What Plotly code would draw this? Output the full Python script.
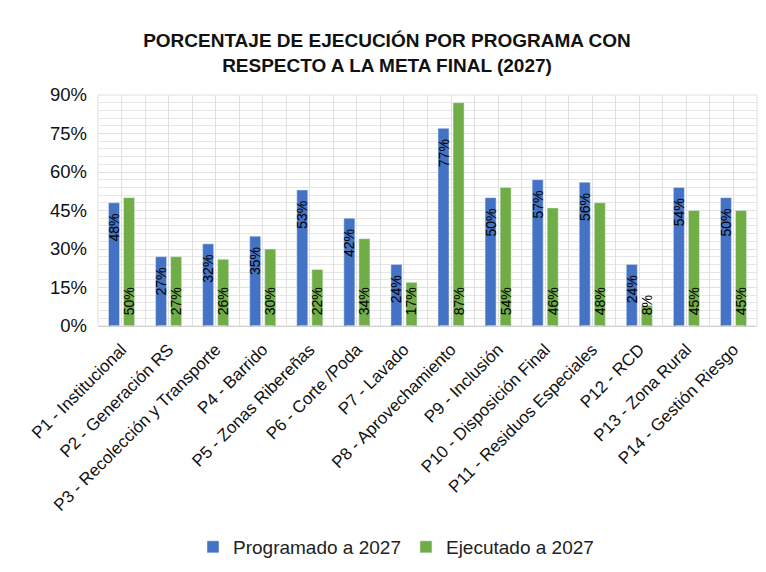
import plotly.graph_objects as go

categorias = ["P1 - Institucional", "P2 - Generación RS", "P3 - Recolección y Transporte",
              "P4 - Barrido", "P5 - Zonas Ribereñas", "P6 - Corte /Poda", "P7 - Lavado",
              "P8 - Aprovechamiento", "P9 - Inclusión", "P10 - Disposición Final",
              "P11 - Residuos Especiales", "P12 - RCD", "P13 - Zona Rural", "P14 - Gestión Riesgo"]
programado = [0.48, 0.27, 0.32, 0.35, 0.53, 0.42, 0.24, 0.77, 0.50, 0.57, 0.56, 0.24, 0.54, 0.50]
ejecutado = [0.50, 0.27, 0.26, 0.30, 0.22, 0.34, 0.17, 0.87, 0.54, 0.46, 0.48, 0.08, 0.45, 0.45]
series = ["Programado a 2027", "Ejecutado a 2027"]
y_ticks = [0, 0.15, 0.30, 0.45, 0.60, 0.75, 0.90]

FONT = "Liberation Sans, Arial, sans-serif"
BLUE = "#4472C4"
GREEN = "#70AD47"
GRID = "#E0E0E0"
NB = "\u00a0"

# page has an 8px body margin; figure sized to fit in 766x572 window
W, H = 758, 564

fig = go.Figure()
fig.add_trace(go.Bar(
    x=categorias, y=programado, name=series[0], marker_color=BLUE,
    texttemplate="%{y:.0%}" + NB * 2, textposition="inside", insidetextanchor="end",
    textangle=-90, constraintext="none", cliponaxis=False,
    textfont=dict(family=FONT, size=14, color="black"),
))
fig.add_trace(go.Bar(
    x=categorias, y=ejecutado, name=series[1], marker_color=GREEN,
    texttemplate=NB * 2 + "%{y:.0%}", textposition="inside", insidetextanchor="start",
    textangle=-90, constraintext="none", cliponaxis=False,
    textfont=dict(family=FONT, size=14, color="black"),
))
# invisible trace on overlay axis to draw center gridlines
fig.add_trace(go.Bar(x=categorias, y=[0] * len(categorias), xaxis="x2", showlegend=False,
                     hoverinfo="skip", marker_color="rgba(0,0,0,0)"))

fig.update_layout(
    width=W, height=H,
    margin=dict(l=90, r=9, t=87, b=246, autoexpand=False),
    paper_bgcolor="white", plot_bgcolor="white",
    font=dict(family=FONT, color="#222222"),
    title=dict(text="<b>PORCENTAJE DE EJECUCIÓN POR PROGRAMA CON<br>RESPECTO A LA META FINAL (2027)</b>",
               x=0.5, xanchor="center", y=1 - 39 / H, yanchor="middle", yref="container",
               font=dict(size=19, family=FONT, color="#111111")),
    barmode="group", bargap=0.36, bargroupgap=0.27,
    legend=dict(orientation="h", x=388 / W, xanchor="center", xref="container",
                y=1 - 539 / H, yanchor="middle", yref="container",
                font=dict(size=19, family=FONT, color="#222222"),
                traceorder="normal", itemwidth=30),
    xaxis=dict(type="category", tickson="boundaries", showgrid=True, gridcolor=GRID,
               tickangle=-45, tickfont=dict(size=17, family=FONT, color="#111111"),
               showline=True, linecolor="#D0D0D0", ticks="", automargin=False,
               ticklabelstandoff=6),
    xaxis2=dict(type="category", overlaying="x", showgrid=True, gridcolor=GRID,
                showticklabels=False, ticks="", matches="x", layer="below traces",
                automargin=False),
    yaxis=dict(range=[y_ticks[0], y_ticks[-1]], tickmode="linear", tick0=y_ticks[0],
               dtick=y_ticks[1] - y_ticks[0], tickformat=".0%", showgrid=True,
               gridcolor=GRID, tickfont=dict(size=18.5, family=FONT, color="#111111"),
               minor=dict(tickmode="linear", tick0=0, dtick=0.03, showgrid=True,
                          gridcolor="#E6E6E6", gridwidth=1),
               zeroline=False, showline=False, ticks="", ticklabelstandoff=10,
               automargin=False),
)
fig.add_shape(type="rect", xref="paper", yref="paper", x0=0, x1=1, y0=0, y1=1,
              line=dict(color=GRID, width=1), layer="below")

fig.write_html("out.html")
